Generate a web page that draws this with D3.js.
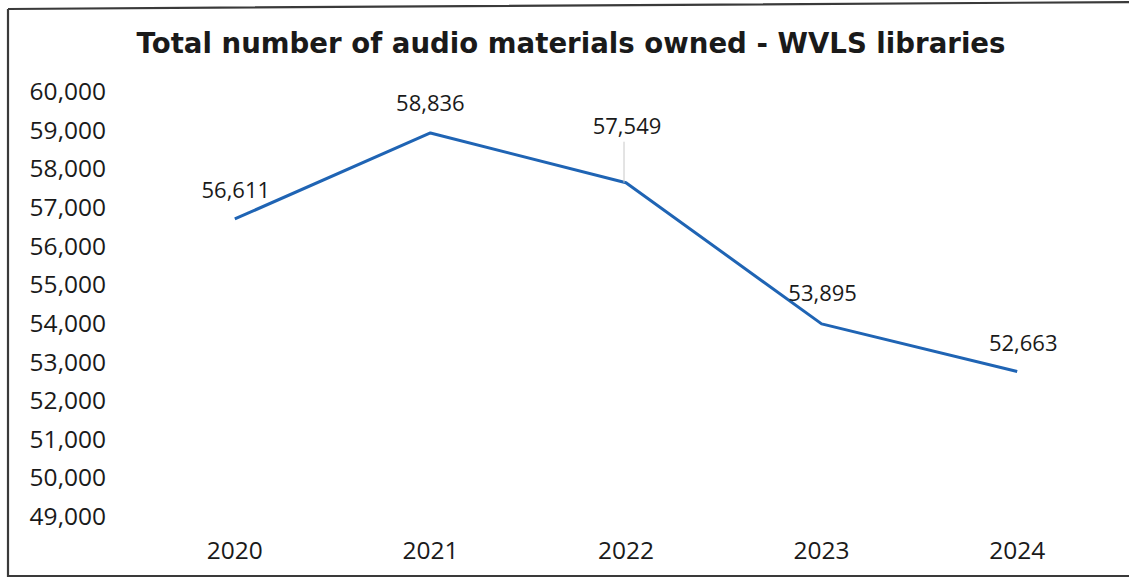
<!DOCTYPE html>
<html>
<head>
<meta charset="utf-8">
<script src="https://cdn.jsdelivr.net/npm/d3@7"></script>
<style>
  html, body { margin: 0; padding: 0; background: #fff; }
  svg { display: block; }
</style>
</head>
<body>
<svg id="chart" width="1129" height="579"></svg>
<script>
// Audio materials owned by WVLS libraries, per year
const years = ["2020", "2021", "2022", "2023", "2024"];
const owned = [56611, 58836, 57549, 53895, 52663];
const yTicks = [49000, 50000, 51000, 52000, 53000, 54000, 55000, 56000, 57000, 58000, 59000, 60000];
const titleText = "Total number of audio materials owned - WVLS libraries";

const W = 1129, H = 579;
const svg = d3.select("#chart");
const fmt = d3.format(",");
const font = "'Open Sans', 'Noto Sans', sans-serif";

// outer frame
svg.append("path")
  .attr("d", "M8,9 L1135,2 M8,9 L8,576 L1135,576")
  .attr("fill", "none")
  .attr("stroke", "#3a3a3a")
  .attr("stroke-width", 2.2);

svg.append("text")
  .attr("x", 571).attr("y", 53)
  .attr("text-anchor", "middle")
  .attr("font-family", "'DejaVu Sans', Verdana, sans-serif")
  .attr("font-weight", "bold")
  .attr("font-size", 27.6)
  .attr("fill", "#1a1a1a")
  .text(titleText);

const x = d3.scaleBand().domain(years).range([137, 1115]);
const y = d3.scaleLinear().domain([49000, 60000]).range([513, 88]);

// y axis labels
const yAxis = d3.axisLeft(y).tickValues(yTicks).tickFormat(fmt).tickSize(0).tickPadding(0);
const gy = svg.append("g").attr("transform", "translate(106,3)").call(yAxis);
gy.select(".domain").remove();
gy.selectAll("text")
  .attr("font-family", font).attr("font-size", 24.5).attr("fill", "#1a1a1a")
  .attr("dy", "0.35em");

// x axis labels
const xAxis = d3.axisBottom(x).tickSize(0).tickPadding(0);
const gx = svg.append("g").attr("transform", "translate(0,550)").call(xAxis);
gx.select(".domain").remove();
gx.selectAll("text")
  .attr("font-family", font).attr("font-size", 24.5).attr("fill", "#1a1a1a")
  .attr("dy", "0.35em");

const cx = d => x(d) + x.bandwidth() / 2;
const pts = years.map((yr, i) => ({ yr, v: owned[i] }));

// series line
svg.append("path")
  .datum(pts)
  .attr("fill", "none")
  .attr("stroke", "#1f64b4")
  .attr("stroke-width", 3)
  .attr("stroke-linejoin", "round")
  .attr("d", d3.line().x(d => cx(d.yr)).y(d => y(d.v)));

// value labels: offset above each point (2022 label lifted, with a leader line)
const labelDX = [1, 0, 1, 1, 6];
const labelDY = [-29, -30, -56, -31, -28];

svg.append("line")
  .attr("x1", cx("2022") - 2).attr("x2", cx("2022") - 2)
  .attr("y1", y(owned[2]) + labelDY[2] + 15).attr("y2", y(owned[2]))
  .attr("stroke", "#c8c8c8").attr("stroke-width", 1);

svg.append("g").selectAll("text")
  .data(pts)
  .join("text")
  .attr("x", (d, i) => cx(d.yr) + labelDX[i])
  .attr("y", (d, i) => y(d.v) + labelDY[i])
  .attr("dy", "0.35em")
  .attr("text-anchor", "middle")
  .attr("font-family", font).attr("font-size", 22).attr("fill", "#1a1a1a")
  .text(d => fmt(d.v));
</script>
</body>
</html>
